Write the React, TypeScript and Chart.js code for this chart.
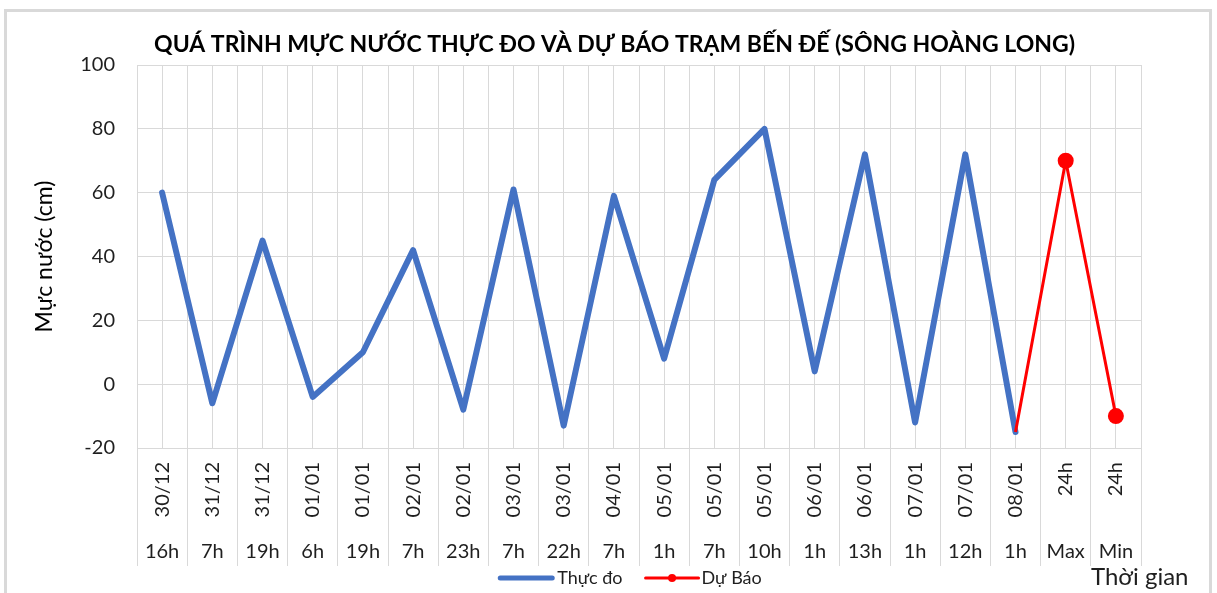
import React, { useEffect, useRef } from 'react';
import { Chart, registerables } from 'chart.js';

Chart.register(...registerables);

// ---- Data ----
const dateLabels = ['30/12', '31/12', '31/12', '01/01', '01/01', '02/01', '02/01', '03/01', '03/01', '04/01', '05/01', '05/01', '05/01', '06/01', '06/01', '07/01', '07/01', '08/01', '24h', '24h'];
const hourLabels = ['16h', '7h', '19h', '6h', '19h', '7h', '23h', '7h', '22h', '7h', '1h', '7h', '10h', '1h', '13h', '1h', '12h', '1h', 'Max', 'Min'];
const observed = [60, -6, 45, -4, 10, 42, -8, 61, -13, 59, 8, 64, 80, 4, 72, -12, 72, -15, null, null];
const forecast = [null, null, null, null, null, null, null, null, null, null, null, null, null, null, null, null, null, -15, 70, -10];
const yTicks = { min: -20, max: 100, step: 20 };

const titleText = 'QUÁ TRÌNH MỰC NƯỚC THỰC ĐO VÀ DỰ BÁO TRẠM BẾN ĐẾ (SÔNG HOÀNG LONG)';
const yTitle = 'Mực nước (cm)';
const xTitle = 'Thời gian';
const seriesNames = ['Thực đo', 'Dự Báo'];

const FONT = 'Lato, "Noto Sans", sans-serif';
const GRID = '#d9d9d9';
const TEXT = '#1f1f1f';
const BLUE = '#4472C4';
const RED = '#FF0000';

const framePlugin = {
  id: 'frame',
  beforeDraw(chart: any) {
    const ctx = chart.ctx;
    ctx.save();
    ctx.strokeStyle = GRID;
    ctx.lineWidth = 3;
    ctx.beginPath();
    ctx.moveTo(5.5, 700);
    ctx.lineTo(5.5, 10.5);
    ctx.lineTo(1210.5, 10.5);
    ctx.lineTo(1210.5, 700);
    ctx.stroke();
    ctx.restore();
  },
};

const legendPlugin = {
  id: 'customLegend',
  afterDraw(chart: any) {
    const ctx = chart.ctx;
    ctx.save();
    const y = 578;
    ctx.font = `18px ${FONT}`;
    ctx.textBaseline = 'middle';
    ctx.textAlign = 'left';
    const w1 = ctx.measureText(seriesNames[0]).width;
    const w2 = ctx.measureText(seriesNames[1]).width;
    const line1 = 56, line2 = 53, gap = 3, spacing = 23;
    const total = line1 + gap + w1 + spacing + line2 + gap + w2;
    let x = 630 - total / 2;
    // item 1
    ctx.strokeStyle = BLUE;
    ctx.lineWidth = 5;
    ctx.lineCap = 'round';
    ctx.beginPath();
    ctx.moveTo(x + 2, y);
    ctx.lineTo(x + line1 - 2, y);
    ctx.stroke();
    ctx.fillStyle = TEXT;
    ctx.fillText(seriesNames[0], x + line1 + gap, y);
    x += line1 + gap + w1 + spacing;
    // item 2
    ctx.strokeStyle = RED;
    ctx.lineWidth = 3;
    ctx.beginPath();
    ctx.moveTo(x, y);
    ctx.lineTo(x + line2, y);
    ctx.stroke();
    ctx.fillStyle = RED;
    ctx.beginPath();
    ctx.arc(x + line2 / 2, y, 4, 0, Math.PI * 2);
    ctx.fill();
    ctx.fillStyle = TEXT;
    ctx.fillText(seriesNames[1], x + line2 + gap, y);
    // axis title
    ctx.font = `24px ${FONT}`;
    ctx.fillStyle = TEXT;
    ctx.fillText(xTitle, 1091, 577);
    ctx.restore();
  },
};

export default function App() {
  const ref = useRef<HTMLCanvasElement | null>(null);

  useEffect(() => {
    if (!ref.current) return;
    const tickFont = { family: FONT, size: 20 };
    const chart = new Chart(ref.current, {
      type: 'line',
      data: {
        labels: dateLabels,
        datasets: [
          {
            label: seriesNames[0],
            data: observed,
            borderColor: BLUE,
            backgroundColor: BLUE,
            borderWidth: 6,
            pointRadius: 0,
            borderJoinStyle: 'round',
            borderCapStyle: 'round',
            tension: 0,
            order: 1,
            xAxisID: 'x',
            yAxisID: 'y',
          },
          {
            label: seriesNames[1],
            data: forecast,
            borderColor: RED,
            backgroundColor: RED,
            borderWidth: 3,
            pointRadius: (c: any) => (c.dataIndex > 17 ? 8 : 0),
            pointHoverRadius: 8,
            pointBorderWidth: 0,
            pointBackgroundColor: RED,
            tension: 0,
            order: 0,
            xAxisID: 'x',
            yAxisID: 'y',
          },
        ],
      } as any,
      options: {
        responsive: false,
        animation: false,
        events: [],
        layout: { padding: { left: 12, right: 0, top: 0, bottom: 25 } },
        plugins: {
          legend: { display: false },
          tooltip: { enabled: false },
          title: {
            display: true,
            text: titleText,
            color: '#000',
            font: { family: FONT, size: 23, weight: 'bold' },
            padding: { top: 31, bottom: 6.4 },
          },
        },
        scales: {
          x: {
            type: 'category',
            position: 'bottom',
            labels: dateLabels,
            offset: true,
            weight: 0,
            grid: {
              offset: true,
              color: GRID,
              tickColor: GRID,
              drawOnChartArea: true,
              drawTicks: true,
              tickLength: 118,
            },
            border: { display: true, color: GRID },
            ticks: {
              autoSkip: false,
              minRotation: 90,
              maxRotation: 90,
              padding: -104,
              color: TEXT,
              font: tickFont,
            },
            afterFit: (s: any) => {
              s.height = 80;
            },
          },
          x2: {
            type: 'category',
            position: 'bottom',
            labels: hourLabels,
            offset: true,
            weight: 1,
            grid: {
              offset: false,
              color: GRID,
              drawOnChartArea: true,
              drawTicks: false,
            },
            border: { display: false },
            ticks: {
              autoSkip: false,
              minRotation: 0,
              maxRotation: 0,
              padding: 12,
              color: TEXT,
              font: tickFont,
            },
            afterFit: (s: any) => {
              s.height = 40;
            },
          },
          y: {
            type: 'linear',
            position: 'left',
            min: yTicks.min,
            max: yTicks.max,
            grid: { color: GRID, drawTicks: false },
            border: { display: true, color: GRID },
            ticks: {
              stepSize: yTicks.step,
              padding: 22,
              color: TEXT,
              font: tickFont,
            },
            title: {
              display: true,
              text: yTitle,
              color: '#000',
              font: { family: FONT, size: 23 },
              padding: { top: 19, bottom: 0 },
            },
            afterFit: (s: any) => {
              s.width = 125;
            },
          },
          yRight: {
            type: 'linear',
            position: 'right',
            display: true,
            grid: { display: false, drawTicks: false },
            border: { display: false },
            ticks: { display: false },
            afterFit: (s: any) => {
              s.width = 76;
            },
          },
        },
      } as any,
      plugins: [framePlugin, legendPlugin],
    });
    return () => chart.destroy();
  }, []);

  return (
    <div style={{ position: 'fixed', left: 0, top: 0, width: 1217, height: 593, background: '#fff' }}>
      <canvas ref={ref} width={1217} height={593} style={{ display: 'block' }} />
    </div>
  );
}
